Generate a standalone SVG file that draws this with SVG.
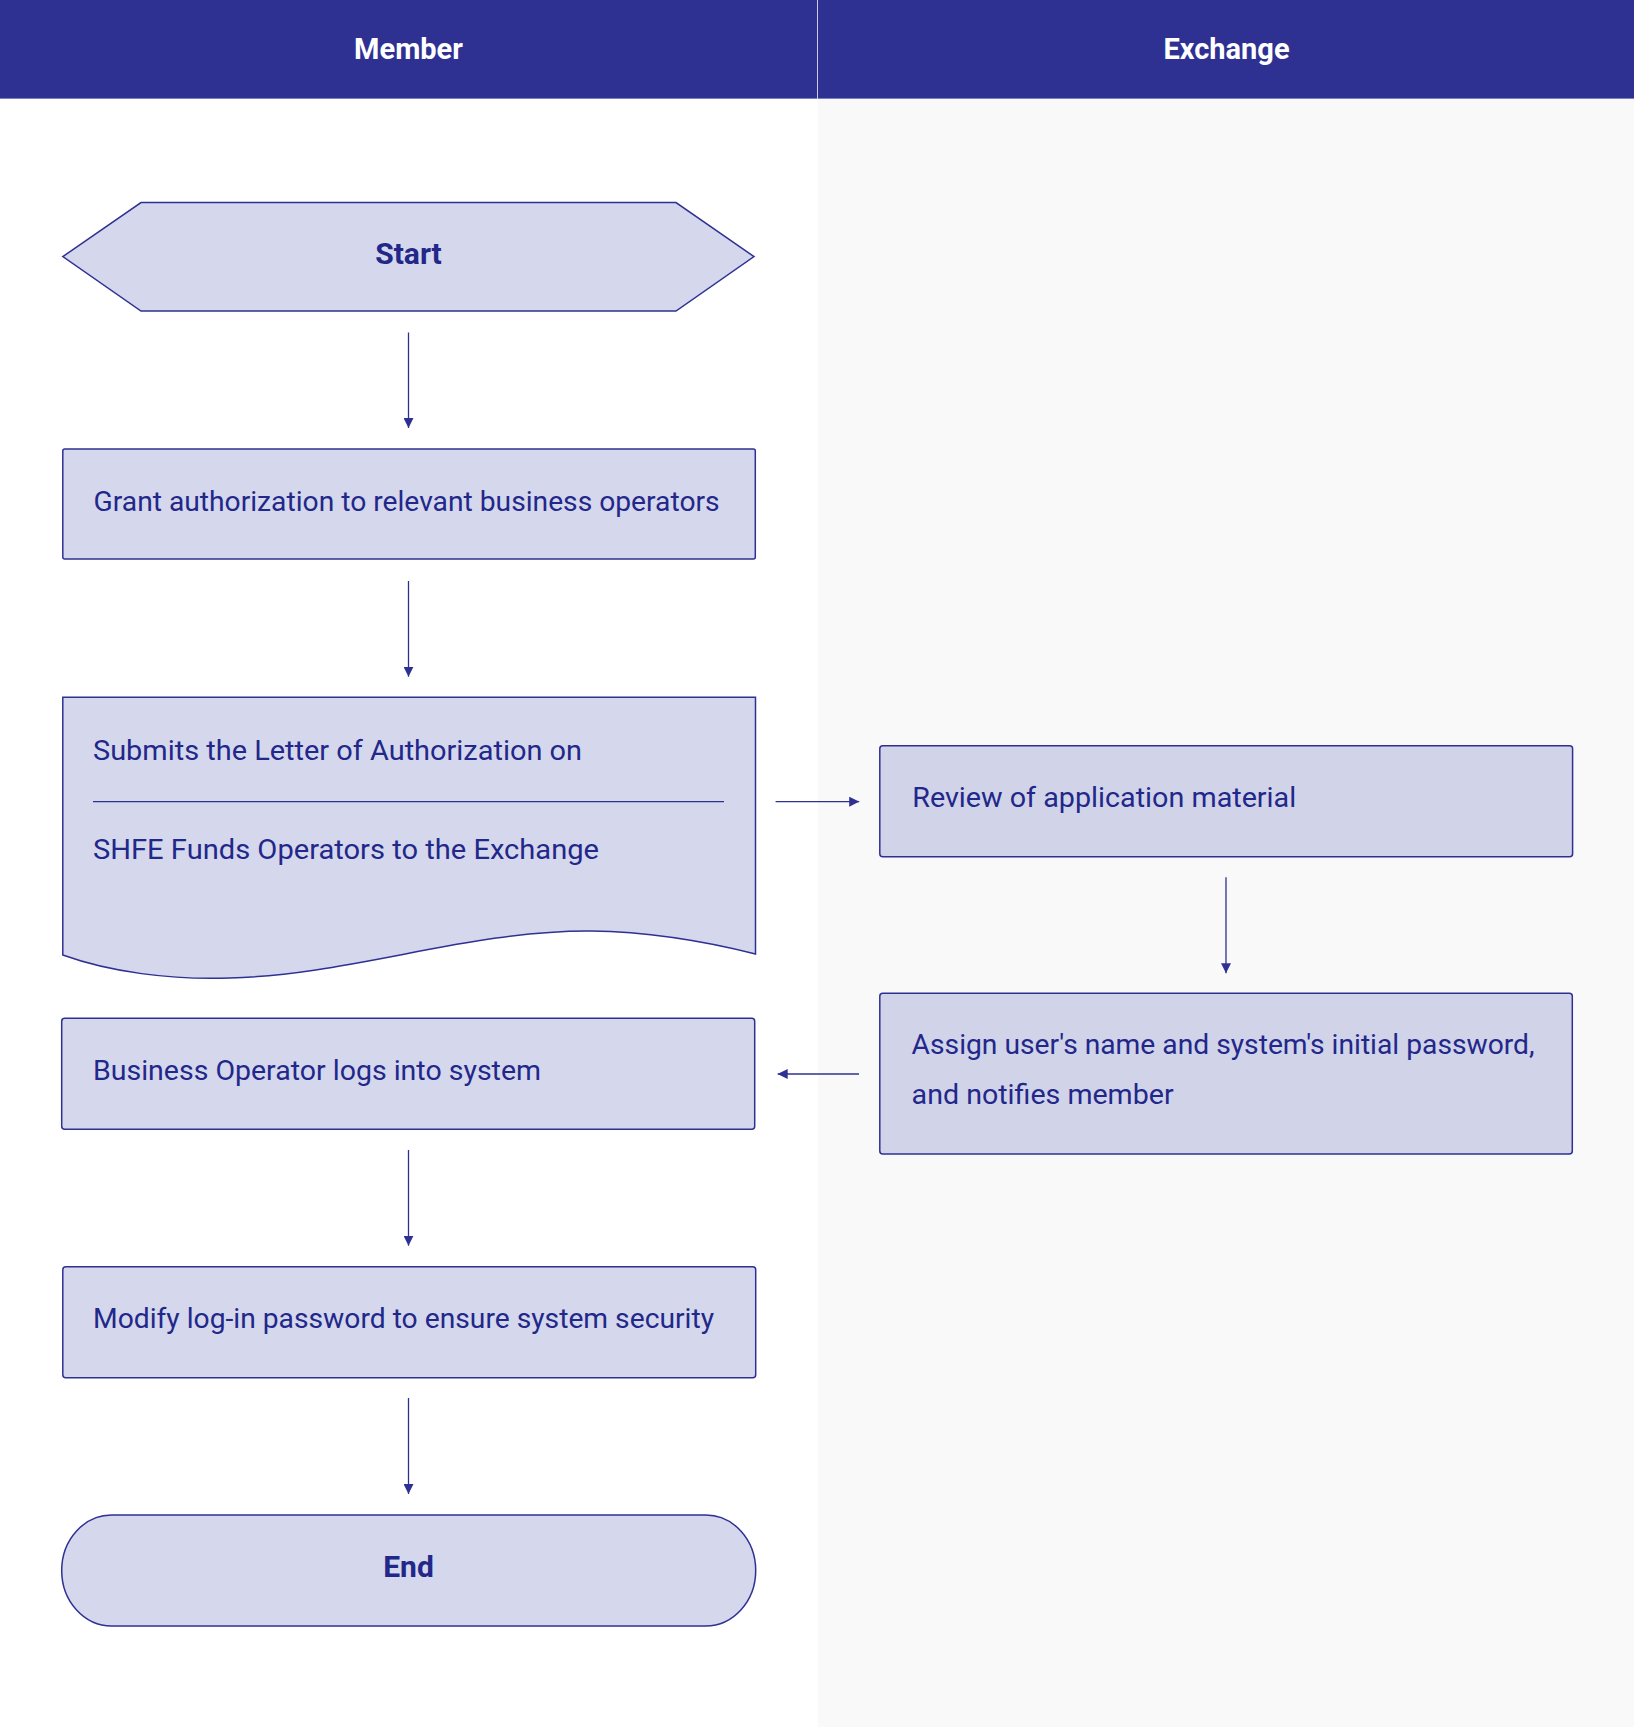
<svg xmlns="http://www.w3.org/2000/svg" width="1634" height="1727" viewBox="0 0 1634 1727">
<defs>
<marker id="ah" viewBox="0 0 10 10" refX="10" refY="5" markerWidth="10" markerHeight="10" markerUnits="userSpaceOnUse" orient="auto">
<path d="M0,0 L10,5 L0,10 Z" fill="#2e3192"/>
</marker>
<style>
.node{fill:#d5d7ec;stroke:#2e3192;stroke-width:1.5}
.node.ex{fill:#d1d3e9}
.lbl{font-family:Roboto,"Noto Sans","Liberation Sans",sans-serif;font-size:28px;fill:#22278a}
.bold{font-family:Roboto,"Noto Sans","Liberation Sans",sans-serif;font-size:30px;font-weight:bold;fill:#22278a;text-anchor:middle}
.hdr{font-family:Roboto,"Noto Sans","Liberation Sans",sans-serif;font-size:29px;font-weight:bold;fill:#ffffff;text-anchor:middle}
.conn{stroke:#2e3192;stroke-width:1.3;fill:none;marker-end:url(#ah)}
</style>
</defs>
<rect x="0" y="0" width="1634" height="1727" fill="#ffffff"/>
<rect x="818" y="99" width="816" height="1628" fill="#f9f9fa"/>
<g id="header">
<rect x="0" y="0" width="1634" height="99" fill="#2e3192"/>
<line x1="0" y1="98.5" x2="1634" y2="98.5" stroke="#7b7fc4" stroke-width="1"/>
<line x1="817.5" y1="0" x2="817.5" y2="99" stroke="#c8cae6" stroke-width="1"/>
<text class="hdr" x="408.5" y="58.5">Member</text>
<text class="hdr" x="1226.5" y="58.5">Exchange</text>
</g>
<g id="start">
<polygon class="node" points="62.8,256.6 141,202.6 676,202.6 754,256.6 676,311 141,311"/>
<text class="bold" x="408.5" y="263.5">Start</text>
</g>
<g id="grant">
<rect class="node" x="62.8" y="449" width="692.5" height="110" rx="2"/>
<text class="lbl" x="93.6" y="510.5" textLength="626" lengthAdjust="spacingAndGlyphs">Grant authorization to relevant business operators</text>
</g>
<g id="submit">
<path class="node" d="M62.8,697.3 H755.5 V954 C720,945 660,932 591,931 C470,930 350,975 230,978 C170,980 110,972 62.8,955 Z"/>
<line x1="93" y1="801.7" x2="724" y2="801.7" stroke="#2e3192" stroke-width="1.3"/>
<text class="lbl" x="93" y="760" textLength="489" lengthAdjust="spacingAndGlyphs">Submits the Letter of Authorization on</text>
<text class="lbl" x="93" y="859" textLength="506" lengthAdjust="spacingAndGlyphs">SHFE Funds Operators to the Exchange</text>
</g>
<g id="review">
<rect class="node ex" x="879.8" y="745.7" width="692.8" height="111" rx="3"/>
<text class="lbl" x="912.2" y="807.3" textLength="384" lengthAdjust="spacingAndGlyphs">Review of application material</text>
</g>
<g id="assign">
<rect class="node ex" x="879.8" y="993.3" width="692.5" height="160.7" rx="3"/>
<text class="lbl" x="911.6" y="1054.3" textLength="623" lengthAdjust="spacingAndGlyphs">Assign user's name and system's initial password,</text>
<text class="lbl" x="911.6" y="1104" textLength="262" lengthAdjust="spacingAndGlyphs">and notifies member</text>
</g>
<g id="login">
<rect class="node" x="61.7" y="1018.3" width="693" height="111" rx="3"/>
<text class="lbl" x="93" y="1080" textLength="448" lengthAdjust="spacingAndGlyphs">Business Operator logs into system</text>
</g>
<g id="modify">
<rect class="node" x="62.8" y="1266.7" width="692.9" height="111" rx="3"/>
<text class="lbl" x="93" y="1328.3" textLength="621" lengthAdjust="spacingAndGlyphs">Modify log-in password to ensure system security</text>
</g>
<g id="end">
<rect class="node" x="61.7" y="1515" width="694" height="111" rx="50" ry="55.5"/>
<text class="bold" x="408.5" y="1576.5">End</text>
</g>
<g id="connectors">
<line class="conn" x1="408.5" y1="332.5" x2="408.5" y2="428"/>
<line class="conn" x1="408.5" y1="581" x2="408.5" y2="676.7"/>
<line class="conn" x1="775.6" y1="801.7" x2="859.2" y2="801.7"/>
<line class="conn" x1="1226" y1="877.3" x2="1226" y2="973.3"/>
<line class="conn" x1="859" y1="1074" x2="777.7" y2="1074"/>
<line class="conn" x1="408.5" y1="1150" x2="408.5" y2="1245.7"/>
<line class="conn" x1="408.5" y1="1398" x2="408.5" y2="1494"/>
</g>
</svg>
